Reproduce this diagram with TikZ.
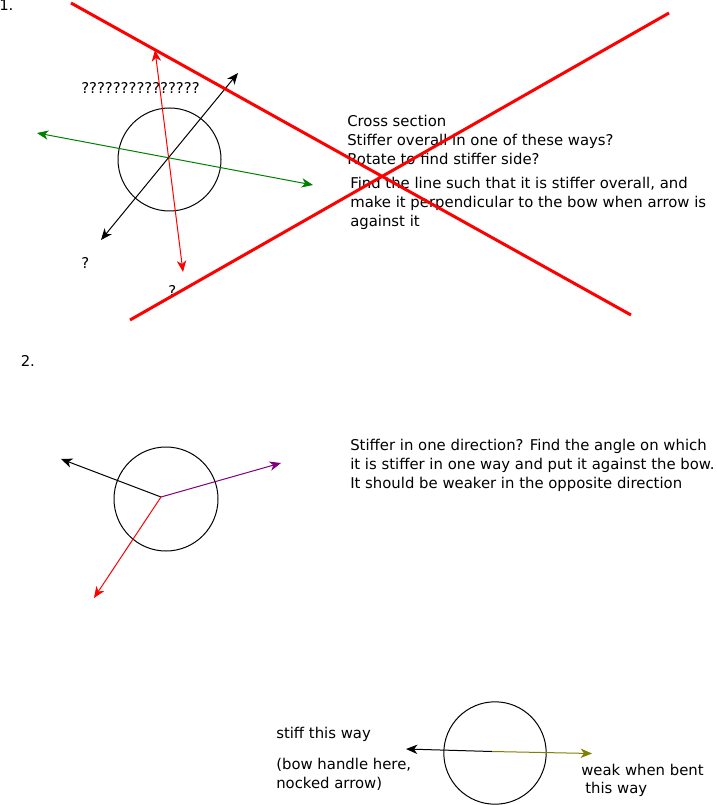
\documentclass[tikz,border=0pt]{standalone}
\usepackage{fontspec}
\setmainfont{DejaVu Sans}
\usetikzlibrary{arrows.meta}

\definecolor{leafgreen}{HTML}{008000}
\definecolor{plum}{HTML}{800080}
\definecolor{olivine}{HTML}{808000}

\tikzset{
  note/.style={anchor=base west, inner sep=0pt, align=left},
  ring/.style={draw, circle, inner sep=0pt, line width=0.75pt},
  pointer/.style={-{Stealth[length=8.5pt,width=7pt,inset=2.5pt]}, line width=0.75pt},
  twoway/.style={{Stealth[length=8.5pt,width=7pt,inset=2.5pt]}-{Stealth[length=8.5pt,width=7pt,inset=2.5pt]}, line width=0.75pt},
  bowline/.style={red, line width=2.25pt}
}

\begin{document}
\begin{tikzpicture}[x=0.75pt, y=-0.75pt, font=\fontsize{11.15}{14.25}\selectfont]
    \useasboundingbox (0,0) rectangle (716,805);

    % 1. cross section
    \node[note] (one) at (-1,11) {1.};
    \node[ring, minimum size=77.25pt] (sectionA) at (169.5,159.5) {};
    \node[note] (qrow) at (81,93.5) {???????????????};
    \node[note] (qleft) at (81,268) {?};
    \node[note] (qlow) at (168,296) {?};

    \coordinate (redtop) at (155,50);
    \coordinate (redbot) at (183,272);
    \coordinate (blktop) at (238,73);
    \coordinate (blkbot) at (101,240);
    \coordinate (grnleft) at (37,133);
    \coordinate (grnright) at (313,185);
    \draw[twoway, red] (redtop) -- (redbot);
    \draw[twoway, black] (blkbot) -- (blktop);
    \draw[twoway, leafgreen] (grnleft) -- (grnright);

    % base is the last line
    \node[note] (askA) at (347,165) {Cross section\\Stiffer overall in one of these ways?\\Rotate to find stiffer side?};
    \node[note] (answerA) at (350,227) {Find the line such that it is stiffer overall, and\\make it perpendicular to the bow when arrow is\\against it};

    % crossed out
    \coordinate (crossA1) at (71,3);
    \coordinate (crossA2) at (631,315);
    \coordinate (crossB1) at (130,320);
    \coordinate (crossB2) at (669,13);
    \draw[bowline] (crossA1) -- (crossA2);
    \draw[bowline] (crossB1) -- (crossB2);

    % 2. one stiff direction
    \node[note] (two) at (20.5,366) {2.};
    \node[ring, minimum size=78pt] (sectionB) at (166,499) {};
    \coordinate (hub) at (161,497);
    \coordinate (hubblk) at (61,459);
    \coordinate (hubplum) at (281,463);
    \coordinate (hubred) at (94,598);
    \draw[pointer, black] (hub) -- (hubblk);
    \draw[pointer, plum] (hub) -- (hubplum);
    \draw[pointer, red] (hub) -- (hubred);

    \node[note] (askB) at (350,488) {Stiffer in one direction? Find the angle on which\\it is stiffer in one way and put it against the bow.\\It should be weaker in the opposite direction};

    % bow side
    \node[ring, minimum size=76.8pt] (sectionC) at (495,753) {};
    \coordinate (mid) at (492,751.5);
    \coordinate (stiffend) at (406,749);
    \coordinate (weakend) at (592,753.5);
    \draw[pointer, black] (mid) -- (stiffend);
    \draw[pointer, olivine] (mid) -- (weakend);

    \node[note] (stiff) at (276,738) {stiff this way};
    \node[note] (handle) at (276,788.5) {(bow handle here,\\nocked arrow)};
    \node[note] (weak) at (581,775) {weak when bent};
    \node[note] (weak2) at (585,793) {this way};

\end{tikzpicture}
\end{document}
